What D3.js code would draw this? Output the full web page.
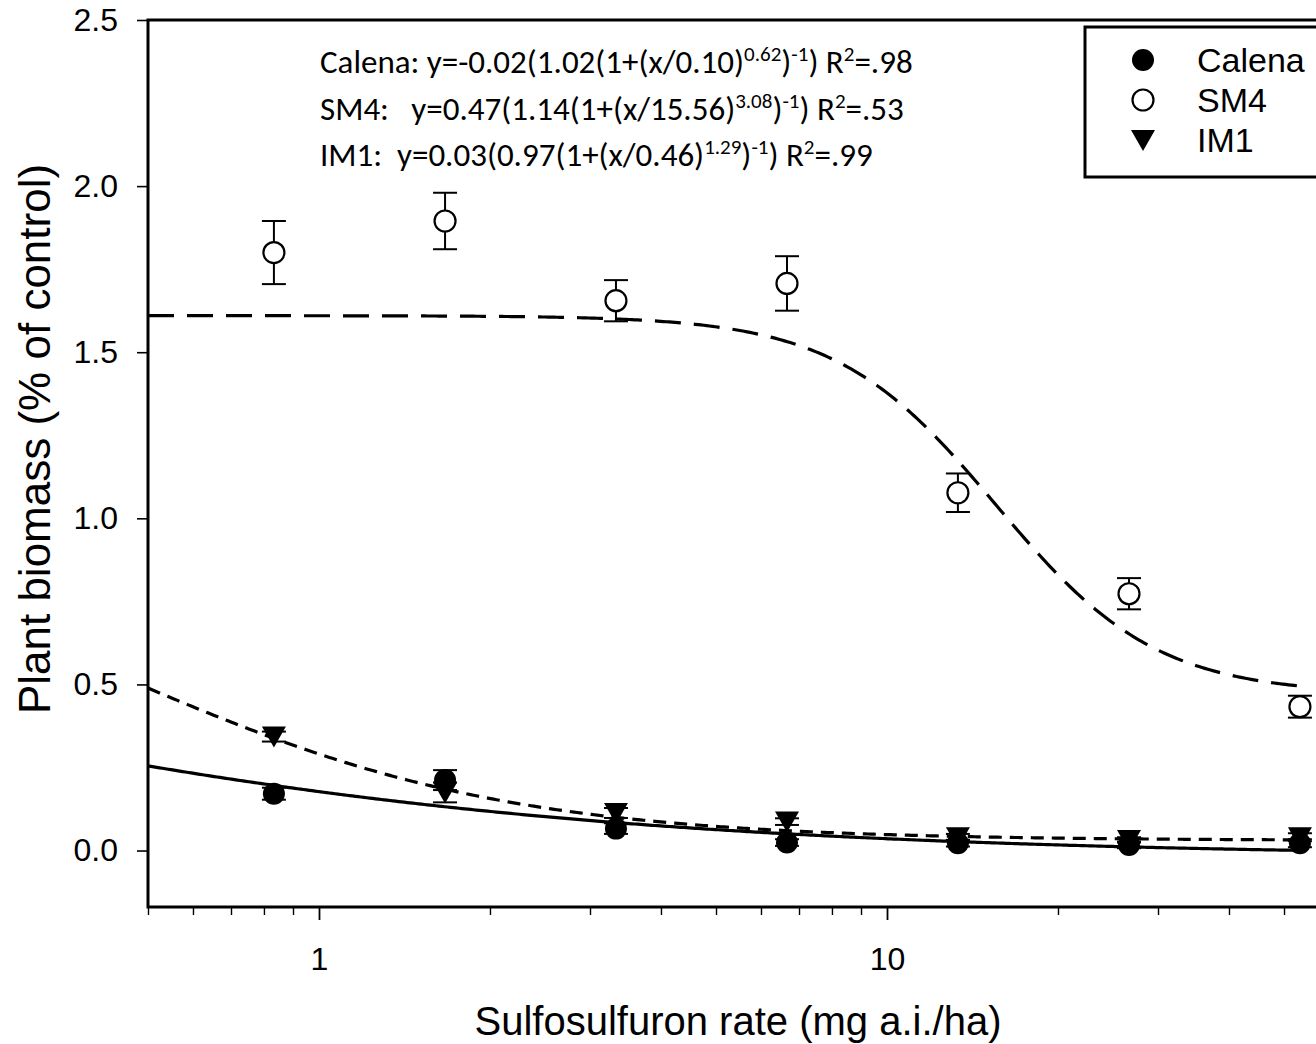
<!DOCTYPE html>
<html>
<head>
<meta charset="utf-8">
<script src="https://cdn.jsdelivr.net/npm/d3@7"></script>
<style>
  html, body { margin: 0; padding: 0; background: #fff; }
  svg { display: block; }
  .sans { font-family: "Liberation Sans", Arial, sans-serif; }
  .eq { font-family: Carlito, Calibri, Lato, sans-serif; white-space: pre; }
</style>
</head>
<body>
<svg id="chart" width="1316" height="1044"></svg>
<script>
// Sulfosulfuron rates (mg a.i./ha), a doubling series
const doses = [0.833, 1.667, 3.333, 6.667, 13.33, 26.67, 53.33];

// Plant biomass (fraction of untreated control), means and standard errors
const calena    = [0.171, 0.212, 0.066, 0.024, 0.022, 0.017, 0.022];
const calenaErr = [0.018, 0.030, 0.016, 0.010, 0.010, 0.010, 0.012];
const sm4       = [1.800, 1.895, 1.655, 1.707, 1.077, 0.773, 0.433];
const sm4Err    = [0.095, 0.085, 0.062, 0.082, 0.058, 0.047, 0.033];
const im1       = [0.343, 0.175, 0.113, 0.087, 0.040, 0.032, 0.040];
const im1Err    = [0.015, 0.030, 0.015, 0.010, 0.010, 0.008, 0.012];

// Log-logistic fits: y = c + d/(1 + (x/e)^b)
const seriesNames = ["Calena", "SM4", "IM1"];
const fitLower = [-0.02, 0.47, 0.03];
const fitRange = [1.02, 1.14, 0.97];
const fitE     = ["0.10", "15.56", "0.46"];
const fitB     = ["0.62", "3.08", "1.29"];
const fitR2    = [".98", ".53", ".99"];
const eqPrefix = ["Calena: ", "SM4:   ", "IM1:  "];

// Axis ticks
const yTicks = [0, 0.5, 1.0, 1.5, 2.0, 2.5];
const xMajor = [1, 10];
const xMinor = [0.5, 0.6, 0.7, 0.8, 0.9, 2, 3, 4, 5, 6, 7, 8, 9, 20, 30, 40, 50, 60];

(function draw() {
  const svg = d3.select("#chart");
  const pL = 148, pT = 20, pB = 907, pR = 1329;

  const x = d3.scaleLog().domain([0.5, 60]).range([pL, pR]);
  const y = d3.scaleLinear().domain([-0.17, 2.5]).range([pB, pT]);

  // Y axis
  const yAxis = svg.append("g")
    .attr("transform", `translate(${pL},0)`)
    .call(d3.axisLeft(y).tickValues(yTicks).tickFormat(d3.format(".1f"))
      .tickSize(11).tickSizeOuter(0).tickPadding(19));
  yAxis.select(".domain").remove();
  yAxis.selectAll("line").attr("stroke", "#000").attr("stroke-width", 1.6);
  yAxis.selectAll("text").attr("class", "sans").attr("font-size", 32).attr("fill", "#000");

  // X axis: major ticks with labels, minor ticks without
  const xAxisMajor = svg.append("g")
    .attr("transform", `translate(0,${pB})`)
    .call(d3.axisBottom(x).tickValues(xMajor).tickFormat(d3.format("d"))
      .tickSize(13).tickSizeOuter(0).tickPadding(27));
  xAxisMajor.select(".domain").remove();
  xAxisMajor.selectAll("line").attr("stroke", "#000").attr("stroke-width", 1.8);
  xAxisMajor.selectAll("text").attr("class", "sans").attr("font-size", 32).attr("fill", "#000");

  const xAxisMinor = svg.append("g")
    .attr("transform", `translate(0,${pB})`)
    .call(d3.axisBottom(x).tickValues(xMinor).tickFormat("").tickSize(8).tickSizeOuter(0));
  xAxisMinor.select(".domain").remove();
  xAxisMinor.selectAll("line").attr("stroke", "#000").attr("stroke-width", 1.4);

  // Plot frame
  svg.append("rect")
    .attr("x", pL).attr("y", pT)
    .attr("width", pR - pL).attr("height", pB - pT)
    .attr("fill", "none").attr("stroke", "#000").attr("stroke-width", 3);

  // Axis titles
  svg.append("text").attr("class", "sans")
    .attr("x", 738).attr("y", 1035)
    .attr("text-anchor", "middle").attr("font-size", 40)
    .text("Sulfosulfuron rate (mg a.i./ha)");

  svg.append("text").attr("class", "sans")
    .attr("transform", "translate(50,439) rotate(-90)")
    .attr("text-anchor", "middle").attr("font-size", 44)
    .text("Plant biomass (% of control)");

  // Fitted curves
  const curveStyles = [
    { dash: null, width: 3.2 },
    { dash: "26,13", width: 3.2 },
    { dash: "13,8", width: 3.2 }
  ];
  const lo = Math.log10(0.5), hi = Math.log10(doses[doses.length - 1]);
  const xs = d3.range(0, 401).map(i => Math.pow(10, lo + i / 400 * (hi - lo)));
  const line = d3.line().x(d => x(d[0])).y(d => y(d[1]));
  seriesNames.forEach((name, i) => {
    const pts = xs.map(v => [v, fitLower[i] + fitRange[i] / (1 + Math.pow(v / +fitE[i], +fitB[i]))]);
    svg.append("path")
      .attr("d", line(pts))
      .attr("fill", "none").attr("stroke", "#000")
      .attr("stroke-width", curveStyles[i].width)
      .attr("stroke-dasharray", curveStyles[i].dash);
  });

  // Data points with error bars
  const series = [
    { vals: calena, errs: calenaErr, marker: "filled" },
    { vals: sm4, errs: sm4Err, marker: "open" },
    { vals: im1, errs: im1Err, marker: "triangle" }
  ];
  const capHalf = 12;
  const triPath = "M-12,-10 L12,-10 L0,11 Z";

  function drawMarker(g, kind) {
    if (kind === "filled") {
      g.append("circle").attr("r", 11).attr("fill", "#000");
    } else if (kind === "open") {
      g.append("circle").attr("r", 10.5).attr("fill", "#fff").attr("stroke", "#000").attr("stroke-width", 2.2);
    } else {
      g.append("path").attr("d", triPath).attr("fill", "#000");
    }
  }

  series.forEach(s => {
    const g = svg.append("g");
    s.vals.forEach((v, j) => {
      const cx = x(doses[j]);
      const y1 = y(v + s.errs[j]), y0 = y(v - s.errs[j]);
      g.append("line").attr("x1", cx).attr("x2", cx).attr("y1", y1).attr("y2", y0)
        .attr("stroke", "#000").attr("stroke-width", 2);
      [y1, y0].forEach(yy => g.append("line")
        .attr("x1", cx - capHalf).attr("x2", cx + capHalf).attr("y1", yy).attr("y2", yy)
        .attr("stroke", "#000").attr("stroke-width", 2));
    });
    s.vals.forEach((v, j) => {
      const m = g.append("g").attr("transform", `translate(${x(doses[j])},${y(v)})`);
      drawMarker(m, s.marker);
    });
  });

  // Fit equations
  const eqY = [73, 120, 166];
  seriesNames.forEach((name, i) => {
    const t = svg.append("text").attr("class", "eq")
      .attr("x", 320).attr("y", eqY[i]).attr("font-size", 33).attr("fill", "#000");
    const sign = fitLower[i] < 0 ? "-" : "";
    t.append("tspan").text(`${eqPrefix[i]}y=${sign}${Math.abs(fitLower[i]).toFixed(2)}(${fitRange[i].toFixed(2)}(1+(x/${fitE[i]})`);
    t.append("tspan").attr("dy", -12).attr("font-size", 21).text(fitB[i]);
    t.append("tspan").attr("dy", 12).text(")");
    t.append("tspan").attr("dy", -12).attr("font-size", 21).text("-1");
    t.append("tspan").attr("dy", 12).text(") R");
    t.append("tspan").attr("dy", -12).attr("font-size", 21).text("2");
    t.append("tspan").attr("dy", 12).text(`=${fitR2[i]}`);
  });

  // Legend
  const legend = svg.append("g");
  legend.append("rect")
    .attr("x", 1085).attr("y", 27).attr("width", 260).attr("height", 150)
    .attr("fill", "#fff").attr("stroke", "#000").attr("stroke-width", 3);
  const legendMarkers = ["filled", "open", "triangle"];
  seriesNames.forEach((name, i) => {
    const cy = 60 + i * 40;
    const m = legend.append("g").attr("transform", `translate(1143,${cy})`);
    drawMarker(m, legendMarkers[i]);
    legend.append("text").attr("class", "sans")
      .attr("x", 1197).attr("y", cy + 12).attr("font-size", 34).text(name);
  });
})();
</script>
</body>
</html>
